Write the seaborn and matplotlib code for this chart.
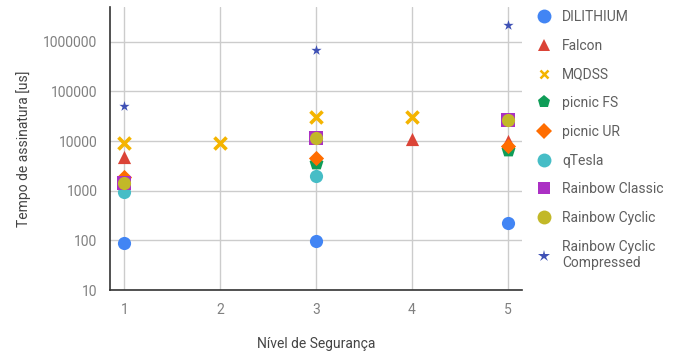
import matplotlib
matplotlib.use("Agg")
import matplotlib.pyplot as plt
import seaborn as sns
import pandas as pd
from matplotlib.ticker import FixedLocator, NullLocator
from matplotlib.lines import Line2D

sns.set_style("white")
plt.rcParams['font.family'] = ['Roboto', 'DejaVu Sans']

series = ["DILITHIUM", "Falcon", "MQDSS", "picnic FS", "picnic UR", "qTesla",
          "Rainbow Classic", "Rainbow Cyclic", "Rainbow Cyclic\nCompressed"]
levels = {
    "DILITHIUM": [1, 3, 5],
    "Falcon": [1, 4, 5],
    "MQDSS": [1, 2, 3, 4],
    "picnic FS": [3, 5],
    "picnic UR": [1, 3, 5],
    "qTesla": [1, 3],
    "Rainbow Classic": [1, 3, 5],
    "Rainbow Cyclic": [1, 3, 5],
    "Rainbow Cyclic\nCompressed": [1, 3, 5],
}
times = {
    "DILITHIUM": [89, 97, 224],
    "Falcon": [4800, 11000, 10200],
    "MQDSS": [9200, 9200, 31000, 31000],
    "picnic FS": [3600, 6600],
    "picnic UR": [1900, 4600, 8000],
    "qTesla": [950, 2000],
    "Rainbow Classic": [1450, 11300, 27000],
    "Rainbow Cyclic": [1400, 11300, 27000],
    "Rainbow Cyclic\nCompressed": [51000, 690000, 2200000],
}
colors = ["#4285F4", "#DB4437", "#F4B400", "#0F9D58", "#FF6D00", "#46BDC6",
          "#AB30C4", "#C2B828", "#3F51B5"]
markers = ["o", "^", "x", "p", "D", "o", "s", "o", "*"]
sizes = [90, 90, 75, 110, 60, 90, 105, 90, 60]
leg_sizes = [10, 8, 6, 9.5, 8, 10, 8, 10, 9]

fig = plt.figure(figsize=(6.75, 3.53), dpi=100)
ax = fig.add_axes([110/675, 1-290/353, (522-110)/675, (290-7)/353])

for name, c, m, s in zip(series, colors, markers, sizes):
    df = pd.DataFrame({"x": levels[name], "y": times[name]})
    kw = dict(linewidth=0)
    if m == "x":
        kw = dict(linewidth=2.6)
    sns.scatterplot(data=df, x="x", y="y", ax=ax, color=c, marker=m, s=s,
                    zorder=3, legend=False, **kw)

ax.set_yscale("log")
ax.set_ylim(10, 5e6)
ax.set_xlim(0.85, 5.15)
ax.yaxis.set_major_locator(FixedLocator([10, 100, 1000, 10000, 100000, 1000000]))
ax.yaxis.set_minor_locator(NullLocator())
ax.set_yticklabels(["10", "100", "1000", "10000", "100000", "1000000"])
ax.set_xticks([1, 2, 3, 4, 5])
ax.set_xticklabels(["1", "2", "3", "4", "5"])
ax.grid(True, color="#cccccc", linewidth=1, zorder=0)
ax.set_axisbelow(True)
for sp in ["top", "right"]:
    ax.spines[sp].set_visible(False)
for sp in ["left", "bottom"]:
    ax.spines[sp].set_color("#333333")
    ax.spines[sp].set_linewidth(1.2)
ax.tick_params(axis="both", direction="inout", length=10, width=1.2, color="#333333",
               labelcolor="#808080", labelsize=10, pad=4)
ax.set_xlabel("Nível de Segurança", color="#444444", fontsize=10, labelpad=15)
ax.set_ylabel("Tempo de assinatura [us]", color="#444444", fontsize=10, labelpad=9)

handles = []
for name, c, m, ms in zip(series, colors, markers, leg_sizes):
    if m == "x":
        h = Line2D([], [], linestyle="none", marker=m, markersize=ms,
                   markeredgecolor=c, markeredgewidth=1.8)
    else:
        h = Line2D([], [], linestyle="none", marker=m, markersize=ms,
                   markerfacecolor=c, markeredgewidth=0)
    handles.append(h)

leg = ax.legend(handles, series, loc="upper left", bbox_to_anchor=(537/675, 1 - 10/353),
                bbox_transform=fig.transFigure, frameon=False, fontsize=10,
                labelspacing=1.06, handlelength=1.0, handletextpad=0.8,
                borderaxespad=0, borderpad=0)
for t in leg.get_texts():
    t.set_color("#5f5f5f")

fig.savefig("out.png", dpi=100)
